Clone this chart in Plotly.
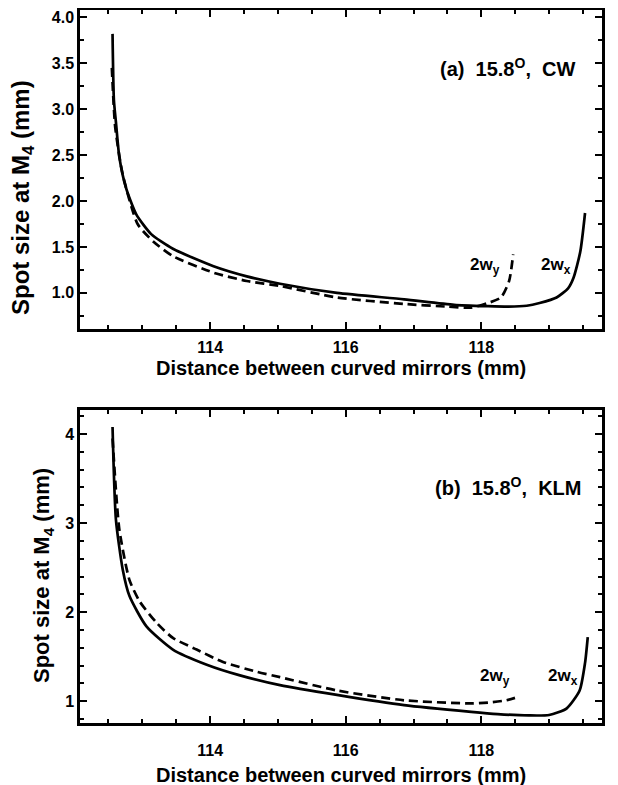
import plotly.graph_objects as go

# Panel (a) 15.8°, CW
a_x_wx = [112.56, 112.58, 112.61, 112.66, 112.76, 112.91, 113.13, 113.45, 114.05, 114.54,
          115.03, 115.87, 116.86, 117.60, 118.10, 118.40, 118.67, 118.86, 119.11, 119.28,
          119.36, 119.46, 119.53]
a_y_wx = [3.82, 3.10, 2.86, 2.48, 2.14, 1.855, 1.64, 1.48, 1.29, 1.18,
          1.10, 1.00, 0.93, 0.87, 0.855, 0.85, 0.86, 0.89, 0.95, 1.05,
          1.165, 1.45, 1.87]
a_x_wy = [112.55, 112.60, 112.71, 112.93, 113.16, 113.45, 114.05, 114.54, 115.03, 115.87,
          116.86, 117.50, 117.85, 118.10, 118.29, 118.41, 118.47]
a_y_wy = [3.45, 2.80, 2.29, 1.75, 1.56, 1.40, 1.22, 1.13, 1.075, 0.95,
          0.88, 0.85, 0.84, 0.89, 0.95, 1.13, 1.42]

# Panel (b) 15.8°, KLM
b_x_wx = [112.56, 112.61, 112.71, 112.81, 113.06, 113.45, 113.95, 114.44, 115.03, 115.87,
          116.86, 117.85, 118.24, 118.70, 119.00, 119.26, 119.45, 119.53, 119.57]
b_y_wx = [4.08, 3.04, 2.48, 2.18, 1.84, 1.58, 1.41, 1.29, 1.18, 1.07,
          0.955, 0.88, 0.855, 0.84, 0.845, 0.92, 1.12, 1.43, 1.72]
b_x_wy = [112.56, 112.66, 112.81, 112.96, 113.21, 113.45, 113.80, 114.19, 114.69, 115.03,
          115.87, 116.86, 117.85, 118.10, 118.37, 118.55]
b_y_wy = [3.95, 2.93, 2.36, 2.12, 1.88, 1.71, 1.58, 1.44, 1.33, 1.27,
          1.12, 1.01, 0.975, 0.985, 1.01, 1.05]

a_yticks = [1.0, 1.5, 2.0, 2.5, 3.0, 3.5, 4.0]
b_yticks = [1, 2, 3, 4]
x_ticks = [114, 116, 118]

FONT = "Liberation Sans, Arial, sans-serif"
LW = 2.7
DASH = "9px,5px"

fig = go.Figure()
fig.add_trace(go.Scatter(x=a_x_wx, y=a_y_wx, mode="lines",
                         line=dict(color="black", width=LW, shape="spline", smoothing=0.6),
                         xaxis="x", yaxis="y", showlegend=False))
fig.add_trace(go.Scatter(x=a_x_wy, y=a_y_wy, mode="lines",
                         line=dict(color="black", width=LW, dash=DASH, shape="spline", smoothing=0.6),
                         xaxis="x", yaxis="y", showlegend=False))
fig.add_trace(go.Scatter(x=b_x_wx, y=b_y_wx, mode="lines",
                         line=dict(color="black", width=LW, shape="spline", smoothing=0.6),
                         xaxis="x2", yaxis="y2", showlegend=False))
fig.add_trace(go.Scatter(x=b_x_wy, y=b_y_wy, mode="lines",
                         line=dict(color="black", width=LW, dash=DASH, shape="spline", smoothing=0.6),
                         xaxis="x2", yaxis="y2", showlegend=False))

tickfont = dict(family=FONT, size=16, color="black", weight="bold")


def xax(anchor, standoff):
    return dict(range=[112.08, 119.78], tickvals=x_ticks, ticks="inside", ticklen=7, tickwidth=2,
                tickcolor="black", showline=True, linewidth=2.5, linecolor="black", mirror="allticks",
                showgrid=False, zeroline=False, tickfont=tickfont, anchor=anchor, automargin=False,
                ticklabelstandoff=standoff, ticklabeloverflow="allow",
                minor=dict(dtick=0.5, tick0=112, ticks="inside", ticklen=4, tickwidth=1.5, tickcolor="black"))


def yax(rng, tickvals, fmt, minor_dt, domain, anchor):
    return dict(range=rng, tickvals=tickvals, tickformat=fmt, ticks="inside", ticklen=7, tickwidth=2,
                tickcolor="black", showline=True, linewidth=2.5, linecolor="black", mirror="allticks",
                showgrid=False, zeroline=False, tickfont=tickfont, domain=domain, anchor=anchor,
                automargin=False, ticklabeloverflow="allow",
                minor=dict(dtick=minor_dt, tick0=0, ticks="inside", ticklen=4, tickwidth=1.5, tickcolor="black"))


# page body has an 8px margin, so the figure is 8px smaller and margins shifted
fig.update_layout(
    width=610, height=777,
    margin=dict(l=72, r=16, t=2, b=62),
    paper_bgcolor="white", plot_bgcolor="white",
    xaxis=xax("y", 2),
    yaxis=yax([0.61, 4.08], a_yticks, ".1f", 0.25, [0.553, 1.0], "x"),
    xaxis2=xax("y2", 11),
    yaxis2=yax([0.755, 4.27], b_yticks, "d", 0.2, [0.0, 0.439], "x2"),
)

xt_font = dict(family=FONT, size=20, color="black", weight="bold")
yt_font_a = dict(family=FONT, size=24, color="black", weight="bold")
yt_font_b = dict(family=FONT, size=22, color="black", weight="bold")
XTITLE = "Distance between curved mirrors (mm)"
YTITLE = "Spot size at M<sub>4</sub> (mm)"

# axis titles (positions in paper units: plot spans screen y 10..723)
fig.add_annotation(text=XTITLE, xref="paper", yref="paper", x=0.5, y=(723 - 368) / 713,
                   xanchor="center", yanchor="middle", showarrow=False, font=xt_font)
fig.add_annotation(text=XTITLE, xref="paper", yref="paper", x=0.5, y=(723 - 775) / 713,
                   xanchor="center", yanchor="middle", showarrow=False, font=xt_font)
fig.add_annotation(text=YTITLE, xref="paper", yref="paper", x=0, xshift=-58, y=(723 - 198) / 713,
                   xanchor="center", yanchor="middle", textangle=-90, showarrow=False, font=yt_font_a)
fig.add_annotation(text=YTITLE, xref="paper", yref="paper", x=0, xshift=-37, y=(723 - 576) / 713,
                   xanchor="center", yanchor="middle", textangle=-90, showarrow=False, font=yt_font_b)

ann_font = dict(family=FONT, size=20, color="black", weight="bold")
lab_font = dict(family=FONT, size=17, color="black", weight="bold")
fig.add_annotation(text="(a)  15.8<sup>O</sup>,  CW", x=119.41, y=3.45, xref="x", yref="y",
                   xanchor="right", yanchor="middle", showarrow=False, font=ann_font)
fig.add_annotation(text="(b)  15.8<sup>O</sup>,  KLM", x=119.5, y=3.41, xref="x2", yref="y2",
                   xanchor="right", yanchor="middle", showarrow=False, font=ann_font)
fig.add_annotation(text="2w<sub>y</sub>", x=118.3, y=1.29, xref="x", yref="y",
                   xanchor="right", yanchor="middle", showarrow=False, font=lab_font)
fig.add_annotation(text="2w<sub>x</sub>", x=119.35, y=1.29, xref="x", yref="y",
                   xanchor="right", yanchor="middle", showarrow=False, font=lab_font)
fig.add_annotation(text="2w<sub>y</sub>", x=118.45, y=1.27, xref="x2", yref="y2",
                   xanchor="right", yanchor="middle", showarrow=False, font=lab_font)
fig.add_annotation(text="2w<sub>x</sub>", x=119.45, y=1.27, xref="x2", yref="y2",
                   xanchor="right", yanchor="middle", showarrow=False, font=lab_font)

fig.write_html("out.html")
